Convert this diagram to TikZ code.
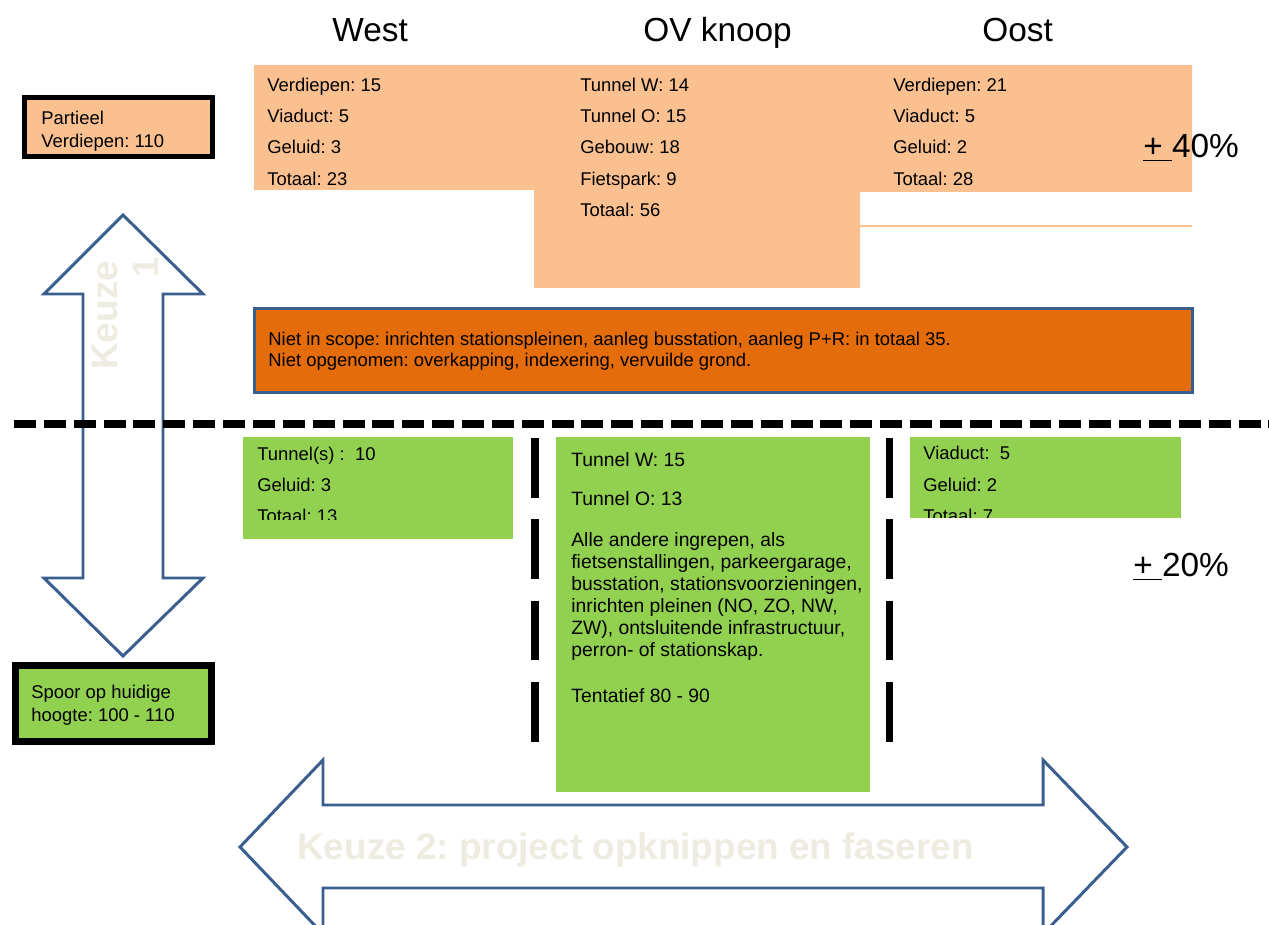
\documentclass[tikz,border=0pt]{standalone}
\usepackage{fontspec}
\setmainfont{Liberation Sans}
\frenchspacing
\definecolor{perzik}{HTML}{FAC090}
\definecolor{oranje}{HTML}{E46C0A}
\definecolor{groen}{HTML}{92D050}
\definecolor{pijlblauw}{HTML}{3A5F8F}
\definecolor{beige}{HTML}{EEECE1}

\begin{document}
\begin{tikzpicture} [x=0.02cm, y=-0.02cm,
	txt/.style={font=\fontsize{10.5}{12}\selectfont, inner sep=0pt, anchor=base west},
	txtgroot/.style={txt, font=\fontsize{11}{13}\selectfont},
	kop/.style={font=\fontsize{19}{23}\selectfont, inner sep=0pt, anchor=base west},
	keuze/.style={font=\fontsize{21}{25}\selectfont\bfseries, text=beige, inner sep=0pt, anchor=base west},
	pijl/.style={draw=pijlblauw, line width=1.7pt, fill=white},
	kader/.style={draw=black, line width=2.8pt}]
	\clip (0,0) rectangle (1269,925);
	% koppen
	\node [kop] (west) at (332,42) {West};
	\node [kop] (ov) at (643,42) {OV knoop};
	\node [kop] (oost) at (982,42) {Oost};
	% keuze 1: verdiepen
	\fill [perzik] (254,65) -- (1192,65) -- (1192,192) -- (860,192) -- (860,288) -- (534,288) -- (534,190) -- (254,190) -- cycle;
	\draw [perzik, line width=1.1pt] (860,226) -- (1192,226);
	\node [txt] (w1) at (267,92) {Verdiepen: 15};
	\node [txt] (w2) at (267,123) {Viaduct: 5};
	\node [txt] (w3) at (267,154) {Geluid: 3};
	\node [txt] (w4) at (267,186) {Totaal: 23};
	\node [txt] (ov1) at (580,92) {Tunnel W: 14};
	\node [txt] (ov2) at (580,123) {Tunnel O: 15};
	\node [txt] (ov3) at (580,154) {Gebouw: 18};
	\node [txt] (ov4) at (580,186) {Fietspark: 9};
	\node [txt] (ov5) at (580,217) {Totaal: 56};
	\node [txt] (o1) at (893,92) {Verdiepen: 21};
	\node [txt] (o2) at (893,123) {Viaduct: 5};
	\node [txt] (o3) at (893,154) {Geluid: 2};
	\node [txt] (o4) at (893,186) {Totaal: 28};
	\node [kop] (plus40) at (1143,158) {\underline{+\ }40\%};
	\draw [kader, fill=perzik] (24.5,97.5) rectangle (212.5,156.5);
	\node [txt] (partieel) at (41,125) {Partieel};
	\node [txt] (partieel2) at (41,148) {Verdiepen: 110};
	% niet in scope
	\draw [draw=pijlblauw, line width=1.7pt, fill=oranje] (254.5,308.5) rectangle (1192.5,392.5);
	\node [txt] (scope1) at (268,346) {Niet in scope: inrichten stationspleinen, aanleg busstation, aanleg P+R: in totaal 35.};
	\node [txt] (scope2) at (268,367) {Niet opgenomen: overkapping, indexering, vervuilde grond.};
	% pijl keuze 1
	\draw [pijl] (123,215) -- (203,294) -- (163,294) -- (163,578) -- (203,578) -- (123,656) -- (44,578) -- (83,578) -- (83,294) -- (44,294) -- cycle;
	\node [keuze, rotate=90] (keuze1) at (117,370) {Keuze};
	\node [keuze, rotate=90] (keuze1b) at (158,278) {1};
	% scheiding
	\draw [line width=4pt, dash pattern=on 12.5pt off 4.5pt] (14,424) -- (1269,424);
	\draw [line width=4pt, dash pattern=on 34pt off 12.3pt] (535,438) -- (535,743);
	\draw [line width=4pt, dash pattern=on 34pt off 12.3pt] (889.5,438) -- (889.5,743);
	% keuze 1: huidige hoogte
	\fill [groen] (243,437) rectangle (513,539);
	\begin{scope}
		\clip (243,437) rectangle (513,520);
		\node [txt] (gw1) at (257,461) {Tunnel(s) :\ \ 10};
		\node [txt] (gw2) at (257,492) {Geluid: 3};
		\node [txt] (gw3) at (257,523) {Totaal: 13};
	\end{scope}
	\fill [groen] (556,437) rectangle (870,792);
	\node [txtgroot] (gm1) at (571,467) {Tunnel W: 15};
	\node [txtgroot] (gm2) at (571,506) {Tunnel O: 13};
	\node [txtgroot] (gm3) at (571,547) {Alle andere ingrepen, als};
	\node [txtgroot] (gm4) at (571,569) {fietsenstallingen, parkeergarage,};
	\node [txtgroot] (gm5) at (571,591) {busstation, stationsvoorzieningen,};
	\node [txtgroot] (gm6) at (571,613) {inrichten pleinen (NO, ZO, NW,};
	\node [txtgroot] (gm7) at (571,635) {ZW), ontsluitende infrastructuur,};
	\node [txtgroot] (gm8) at (571,657) {perron- of stationskap.};
	\node [txtgroot] (gm9) at (571,703) {Tentatief 80 - 90};
	\fill [groen] (910,437) rectangle (1181,518);
	\begin{scope}
		\clip (910,437) rectangle (1181,518);
		\node [txt] (go1) at (923,460) {Viaduct:\ \ 5};
		\node [txt] (go2) at (923,492) {Geluid: 2};
		\node [txt] (go3) at (923,523) {Totaal: 7};
	\end{scope}
	\node [kop] (plus20) at (1133,577) {\underline{+\ }20\%};
	\draw [kader, line width=4pt, fill=groen] (15.5,665.5) rectangle (211.5,741.5);
	\node [txt] (spoor1) at (31,699) {Spoor op huidige};
	\node [txt] (spoor2) at (31,722) {hoogte: 100 - 110};
	% pijl keuze 2
	\draw [pijl] (240,847) -- (323,760) -- (323,805) -- (1043,805) -- (1043,760) -- (1127,847) -- (1043,934) -- (1043,888) -- (323,888) -- (323,934) -- cycle;
	\node [keuze] (keuze2) at (297,860) {Keuze 2: project opknippen en faseren};
\end{tikzpicture}
\end{document}
